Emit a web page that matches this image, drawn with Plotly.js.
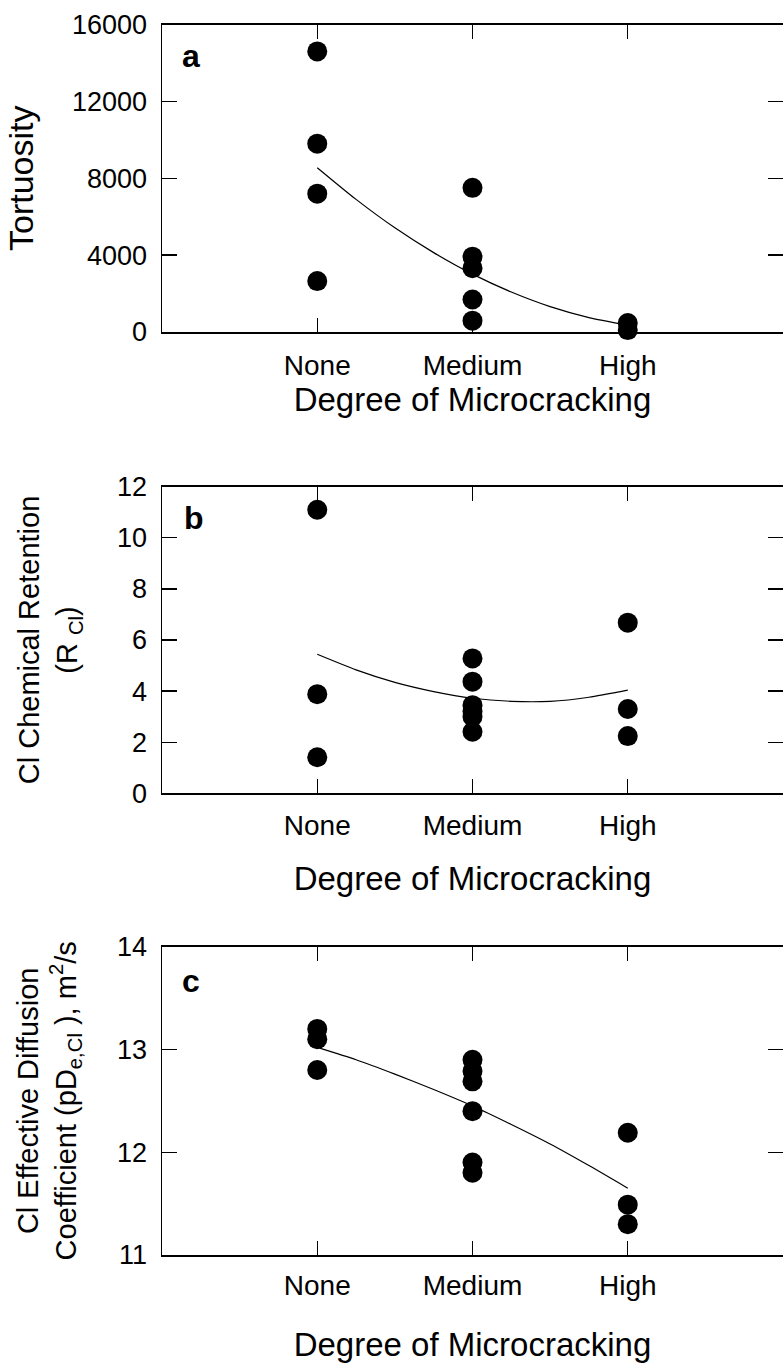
<!DOCTYPE html>
<html>
<head>
<meta charset="utf-8">
<script src="https://cdn.plot.ly/plotly-3.0.1.min.js"></script>
<style>
  html, body { margin: 0; padding: 0; background: #ffffff; }
  #chart { width: 783px; height: 1363px; }
</style>
</head>
<body>
<div id="chart"></div>
<script>
// ---- Data ----
const categories = ["None", "Medium", "High"];

// Panel a: Tortuosity
const tortNone = [14600, 9800, 7200, 2650];
const tortMedium = [7500, 3920, 3320, 1690, 590];
const tortHigh = [470, 100];
const fitX = [1, 1.25, 1.5, 1.75, 2, 2.25, 2.5, 2.75, 3];
const tortFit = [8550, 6900, 5420, 4130, 3010, 2080, 1320, 750, 350];

// Panel b: Cl chemical retention (R_Cl)
const retNone = [11.1, 3.88, 1.41];
const retMedium = [5.28, 4.37, 3.45, 3.2, 3.0, 2.41];
const retHigh = [6.68, 3.3, 2.24];
const retFit = [5.44, 4.83, 4.34, 3.98, 3.72, 3.6, 3.6, 3.76, 4.04];

// Panel c: Cl effective diffusion coefficient (pDe,Cl)
const diffNone = [13.2, 13.1, 12.8];
const diffMedium = [12.9, 12.79, 12.69, 12.4, 11.9, 11.8];
const diffHigh = [12.19, 11.49, 11.3];
const diffFit = [13.02, 12.9, 12.76, 12.61, 12.45, 12.27, 12.08, 11.87, 11.65];

// Tick labels
const tortTicks = [0, 4000, 8000, 12000, 16000];
const retTicks = [0, 2, 4, 6, 8, 10, 12];
const diffTicks = [11, 12, 13, 14];

// ---- Build traces ----
const FONT = "'Liberation Sans', Arial, Helvetica, sans-serif";
const catIndex = categories.map((c, i) => i + 1);

function pointsTrace(groups, xa, ya) {
  const xs = [], ys = [];
  groups.forEach((vals, i) => {
    vals.forEach(v => { xs.push(catIndex[i]); ys.push(v); });
  });
  return {
    type: "scatter", mode: "markers", x: xs, y: ys, xaxis: xa, yaxis: ya,
    marker: { color: "#000", size: 20, line: { width: 0 } },
    cliponaxis: false, hoverinfo: "x+y"
  };
}
function fitTrace(ys, xa, ya) {
  return {
    type: "scatter", mode: "lines", x: fitX, y: ys, xaxis: xa, yaxis: ya,
    line: { color: "#000", width: 1.2, shape: "spline", smoothing: 0.6 },
    hoverinfo: "skip"
  };
}

const traces = [
  fitTrace(tortFit, "x", "y"),
  pointsTrace([tortNone, tortMedium, tortHigh], "x", "y"),
  fitTrace(retFit, "x2", "y2"),
  pointsTrace([retNone, retMedium, retHigh], "x2", "y2"),
  fitTrace(diffFit, "x3", "y3"),
  pointsTrace([diffNone, diffMedium, diffHigh], "x3", "y3")
];

const H = 1363;
function dom(topPx, botPx) { return [1 - botPx / H, 1 - topPx / H]; }

function xAxis(anchor, labelStandoff, standoff) {
  return {
    anchor: anchor, domain: [162 / 783, 1], range: [0, 4],
    tickmode: "array", tickvals: catIndex, ticktext: categories,
    ticks: "inside", ticklen: 14, tickwidth: 1.3, tickcolor: "#000",
    showline: true, linewidth: 1.5, linecolor: "#000", mirror: "ticks",
    showgrid: false, zeroline: false,
    tickfont: { family: FONT, size: 28, color: "#000" },
    ticklabelstandoff: labelStandoff,
    title: { text: "Degree of Microcracking", font: { family: FONT, size: 33, color: "#000" }, standoff: standoff },
    automargin: false
  };
}
function yAxis(anchor, domainY, range, ticks, titleText, titleSize, standoff) {
  return {
    anchor: anchor, domain: domainY, range: range,
    tickmode: "array", tickvals: ticks, ticktext: ticks.map(String),
    ticks: "inside", ticklen: 15, tickwidth: 1.3, tickcolor: "#000",
    showline: true, linewidth: 1.5, linecolor: "#000", mirror: "ticks",
    showgrid: false, zeroline: false,
    tickfont: { family: FONT, size: 27, color: "#000" },
    ticklabelstandoff: 8,
    title: { text: titleText, font: { family: FONT, size: titleSize, color: "#000" }, standoff: standoff },
    automargin: false
  };
}

const dA = dom(24.5, 332), dB = dom(486.7, 793.3), dC = dom(946.7, 1255);

const layout = {
  width: 783, height: 1363,
  margin: { l: 0, r: 0, t: 0, b: 0, pad: 0 },
  paper_bgcolor: "#fff", plot_bgcolor: "#fff",
  showlegend: false,
  font: { family: FONT, color: "#000" },
  xaxis: xAxis("y", 8, 0),
  yaxis: yAxis("x", dA, [0, 16000], tortTicks, "Tortuosity", 34, 28),
  xaxis2: xAxis("y2", 7, 26),
  yaxis2: yAxis("x2", dB, [0, 12], retTicks, "Cl Chemical Retention<br>(R <sub>Cl</sub>)", 29, 31),
  xaxis3: xAxis("y3", 5, 33),
  yaxis3: yAxis("x3", dC, [11, 14], diffTicks, "Cl Effective Diffusion<br>Coefficient (pD<sub>e,Cl</sub> ), m<sup>2</sup>/s", 29, 32),
  annotations: [
    { text: "<b>a</b>", xref: "paper", yref: "paper", x: 180 / 783, y: 1 - 56 / H, xanchor: "left", yanchor: "middle", showarrow: false, font: { family: FONT, size: 32, color: "#000" } },
    { text: "<b>b</b>", xref: "paper", yref: "paper", x: 182 / 783, y: 1 - 518 / H, xanchor: "left", yanchor: "middle", showarrow: false, font: { family: FONT, size: 32, color: "#000" } },
    { text: "<b>c</b>", xref: "paper", yref: "paper", x: 180 / 783, y: 1 - 981 / H, xanchor: "left", yanchor: "middle", showarrow: false, font: { family: FONT, size: 32, color: "#000" } }
  ]
};

Plotly.newPlot("chart", traces, layout, { displayModeBar: false, staticPlot: true });
</script>
</body>
</html>
